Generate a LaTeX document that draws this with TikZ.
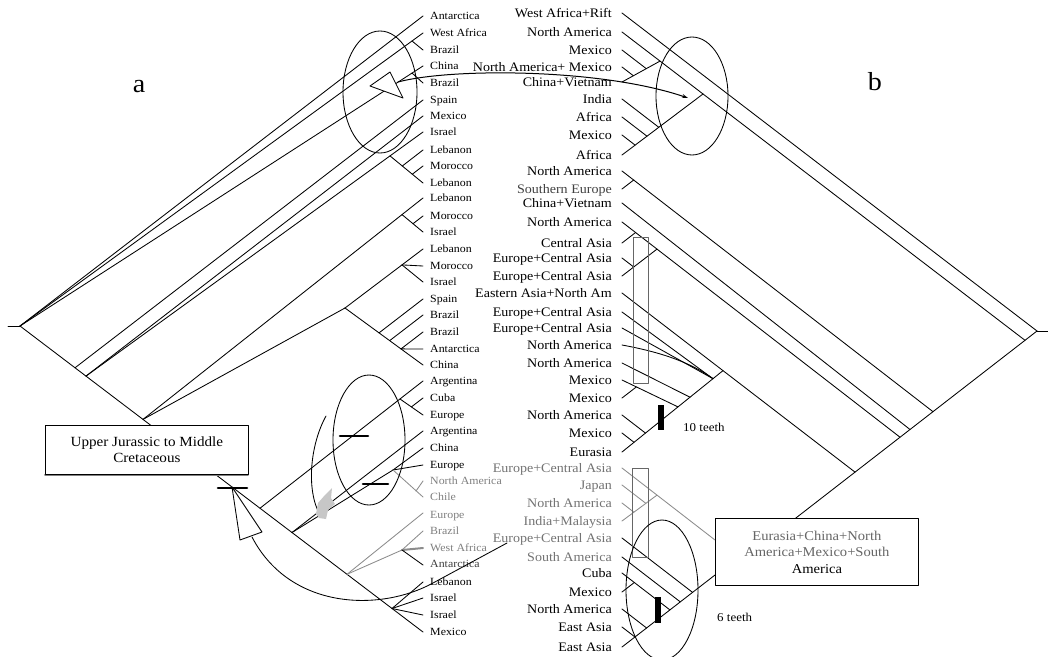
\documentclass[tikz,border=0pt]{standalone}
\usepackage{fontspec}
\setmainfont[FakeStretch=1.08]{Liberation Serif}
\usetikzlibrary{arrows.meta}
\begin{document}
\begin{tikzpicture}[x=1pt,y=-1pt,line cap=round,line join=round,
  ln/.style={line width=0.85pt,draw=black},
  gln/.style={line width=0.85pt,draw=black!45},
  ll/.style={anchor=base west,inner sep=0pt,font=\fontsize{11}{12}\selectfont},
  rl/.style={anchor=base east,inner sep=0pt,font=\fontsize{13}{15}\selectfont},
  bar/.style={line width=2.6pt},
  vbar/.style={fill=black,draw=none},
  ell/.style={line width=0.85pt},
  rect/.style={line width=0.9pt,draw=black!60},
  lbox/.style={draw=black,line width=0.8pt,fill=white},
  big/.style={font=\fontsize{26}{30}\selectfont,anchor=base,inner sep=0pt},
  small/.style={font=\fontsize{12}{14}\selectfont,anchor=base west,inner sep=0pt}]
\useasboundingbox[fill=white] (0,0) rectangle (1048,656);

% ---------------- left tree ----------------
\coordinate (LR) at (20,326);
\draw[ln] (8,326) -- (LR);
\draw[ln] (LR) -- (423,16);
\draw[ln] (LR) -- (423,33);
\draw[ln] (LR) -- (423,66);
\draw[ln] (412,41) -- (423,50);
\draw[ln] (412,73) -- (423,83);
\draw[ln] (LR) -- (423,632);
\draw[ln] (75,367.8) -- (423,100);
\draw[ln] (86,376.1) -- (423,116);
\draw[ln] (86,376.1) -- (423,132);
\draw[ln] (390,155.9) -- (423,183);
\draw[ln] (412.3,174.2) -- (423,166);
\draw[ln] (402.3,166) -- (423,150);
\draw[ln] (143,419.4) -- (423,198);
\draw[ln] (143,419.4) -- (345,308);
\draw[ln] (402,214.6) -- (423,232);
\draw[ln] (413,223.7) -- (423,216);
\draw[ln] (345,308) -- (423,249);
\draw[ln] (402,264.9) -- (423,266);
\draw[ln] (402,264.9) -- (423,282);
\draw[ln] (345,308) -- (423,365);
\draw[ln] (379,332.9) -- (423,299);
\draw[ln] (389.7,340.6) -- (423,315);
\draw[ln] (401,348.9) -- (423,332);
\draw[ln] (401,348.9) -- (423,349);
% lower part
\draw[ln] (260,508.2) -- (423,381);
\draw[ln] (400,399) -- (423,415);
\draw[ln] (411.4,406.9) -- (423,398);
\draw[ln] (292,532.5) -- (423,431);
\draw[ln] (292,532.5) -- (393,470);
\draw[ln] (393,470) -- (423,448);
\draw[ln] (393,470) -- (423,465);
\draw[gln] (393,470) -- (423,497);
\draw[gln] (416,491) -- (423,481);
\draw[gln] (347,574.3) -- (423,513);
\draw[gln] (347,574.3) -- (402,550);
\draw[gln] (402,550) -- (423,531);
\draw[gln,line width=2pt] (402,550) -- (423,548);
\draw[ln] (402,550) -- (423,565);
\draw[ln] (392,608.5) -- (423,582);
\draw[ln] (392,608.5) -- (423,598);
\draw[ln] (392,608.5) -- (423,615);

% left labels
\foreach \y/\t/\c [count=\i] in {16/Antarctica/black,33/West Africa/black,50/Brazil/black,66/China/black,
  83/Brazil/black,100/Spain/black,116/Mexico/black,132/Israel/black,150/Lebanon/black,166/Morocco/black,
  183/Lebanon/black,198/Lebanon/black,216/Morocco/black,232/Israel/black,249/Lebanon/black,266/Morocco/black,
  282/Israel/black,299/Spain/black,315/Brazil/black,332/Brazil/black,349/Antarctica/black,365/China/black,
  381/Argentina/black,398/Cuba/black,415/Europe/black,431/Argentina/black,448/China/black,465/Europe/black,
  481/North America/black!50,497/Chile/black!50,515/Europe/black!50,531/Brazil/black!50,548/West Africa/black!50,
  564/Antarctica/black!75,582/Lebanon/black,598/Israel/black,615/Israel/black,632/Mexico/black}
  \node[ll,text=\c] (l\i) at (430,\y+3.5) {\t};

% ellipses, arrows, marks on the left
\draw[ell] (380,92) ellipse [x radius=37,y radius=61];
\draw[ell] (369,440) ellipse [x radius=36,y radius=65];
\draw[ell] (326,416) .. controls (310,445) and (306,490) .. (320,515);
\fill[black!22] (316,514) -- (318,503) -- (325,495) -- (332,488) -- (331,498) -- (335,504) -- (328,510) -- (326,519) -- (319,518) -- cycle;
\draw[ln,fill=white] (370,86) -- (390,72) -- (403,98) -- cycle;
\draw[line width=1pt,-{Stealth[length=6pt,width=4pt]}] (398,82) .. controls (450,68) and (600,68) .. (688,98);
\draw[ln] (507,543) -- (433,583) .. controls (380,612) and (290,610) .. (252,537);
\draw[ln,fill=white] (232,487) -- (240,540) -- (262,532) -- cycle;
\draw[bar] (218,488) -- (247,488);
\draw[bar] (340,436) -- (368,436);
\draw[bar] (363,484) -- (388,484);

% left box
\draw[black!50,line width=2pt] (45,475) -- (248,475);
\node[lbox,minimum width=203pt,minimum height=49pt,inner sep=0pt,anchor=north west,
  align=center,font=\fontsize{14}{16.5}\selectfont] (lbox) at (45,425) {Upper Jurassic to Middle\\Cretaceous};

\node[big] (la) at (139,92) {a};
\node[big] (lb) at (875,90) {b};

% ---------------- right tree ----------------
\coordinate (RR) at (1037,331);
\draw[ln] (RR) -- (1048,331);
\draw[ln] (622,13) -- (RR);
\draw[ln] (RR) -- (792,521);
\draw[ln] (622,32) -- (1025,340.3);
\draw[ln] (622,82) -- (660,61.1);
\draw[ln] (633.3,75.7) -- (622,67);
\draw[ln] (646.2,68.6) -- (622,50);
\draw[ln] (622,155) -- (703,94);
\draw[ln] (622,99) -- (658.8,127.3);
\draw[ln] (622,117) -- (647,136.2);
\draw[ln] (622,135) -- (635.1,145.1);
\draw[ln] (622,171) -- (933,411.7);
\draw[ln] (622,189) -- (633.7,180);
\draw[ln] (622,203) -- (910,429.5);
\draw[ln] (622,222) -- (900,437.2);
\draw[ln] (622,243) -- (635.6,232.5);
\draw[ln] (622,276) -- (657,249.1);
\draw[ln] (622,258) -- (633.7,267);
\draw[ln] (622,293) -- (855,472.1);
\draw[ln] (622,452) -- (723,370.6);
\draw[ln] (622,312) -- (713,378.7);
\draw[ln] (622,328) -- (713,378.7);
\draw[ln] (622,345) .. controls (660,352) and (690,362) .. (713,378.7);
\draw[ln] (622,363) -- (690,397.2);
\draw[ln] (622,380) -- (678,406.9);
\draw[ln] (622,398) -- (636.4,386.9);
\draw[ln] (622,415) -- (645.5,433.1);
\draw[ln] (622,433) -- (634,442.3);
% lower clade
\draw[gln] (622,468) -- (715,540);
\draw[ln] (622,647) -- (715,575);
\draw[gln] (622,521) -- (657,495.1);
\draw[gln] (622,485) -- (645.8,503.3);
\draw[gln] (622,503) -- (633.9,512.2);
\draw[ln] (622,538) -- (692.6,592.4);
\draw[ln] (622,557) -- (680.3,601.9);
\draw[ln] (622,573) -- (669.9,609.9);
\draw[ln] (622,592) -- (634.3,582.5);
\draw[ln] (622,609) -- (646.6,628);
\draw[ln] (622,627) -- (635,637);

% right labels
\foreach \y/\t/\c [count=\i] in {13/West Africa+Rift/black,32/North America/black,50/Mexico/black,
  67/North America+ Mexico/black,82/China+Vietnam/black,99/India/black,117/Africa/black,135/Mexico/black,
  155/Africa/black,171/North America/black,189/Southern Europe/black!75,203/China+Vietnam/black,
  222/North America/black,243/Central Asia/black,258/Europe+Central Asia/black,276/Europe+Central Asia/black,
  293/Eastern Asia+North Am/black,312/Europe+Central Asia/black,328/Europe+Central Asia/black,
  345/North America/black,363/North America/black,380/Mexico/black,398/Mexico/black,415/North America/black,
  433/Mexico/black,452/Eurasia/black,468/Europe+Central Asia/black!55,485/Japan/black!55,
  503/North America/black!55,521/India+Malaysia/black!55,538/Europe+Central Asia/black!55,
  557/South America/black!55,573/Cuba/black,592/Mexico/black,609/North America/black,627/East Asia/black,
  647/East Asia/black}
  \node[rl,text=\c] (r\i) at (612,\y+4.5) {\t};

% rectangles, ellipses, bars on the right
\draw[rect] (633,237) rectangle (648,383);
\draw[rect] (632,468) rectangle (648,557);
\draw[ell] (692,96) ellipse [x radius=36,y radius=59];
\draw[ell] (662,590) ellipse [x radius=36,y radius=70];
\fill[vbar] (658,405) rectangle (663.5,430);
\fill[vbar] (655,597) rectangle (660.5,623);
\node[small] (t10) at (683,431) {10 teeth};
\node[small] (t6) at (717,621) {6 teeth};

\node[draw=black,line width=0.8pt,fill=white,minimum width=203pt,minimum height=67pt,inner sep=0pt,
  anchor=north west,align=center,font=\fontsize{13.5}{16.5}\selectfont] (rbox) at (715,518)
  {\textcolor{black!60}{Eurasia+China+North}\\\textcolor{black!60}{America+Mexico+South}\\America};
\end{tikzpicture}
\end{document}
